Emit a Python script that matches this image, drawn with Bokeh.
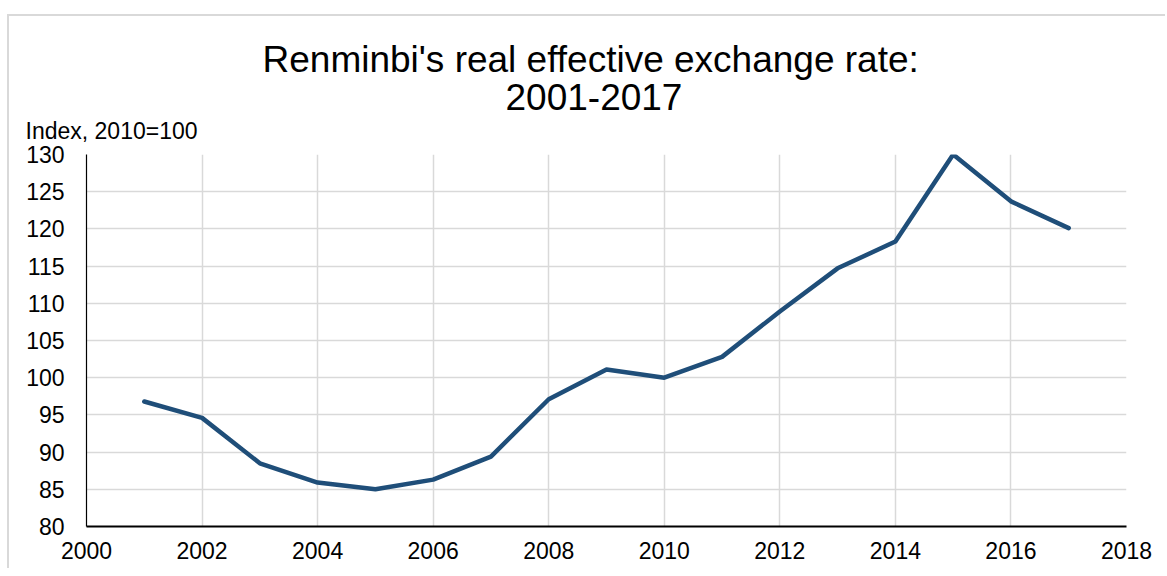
from bokeh.plotting import figure
from bokeh.models import Range1d, SingleIntervalTicker, Title
from bokeh.embed import file_html
from bokeh.resources import INLINE

years = [2001, 2002, 2003, 2004, 2005, 2006, 2007, 2008, 2009,
         2010, 2011, 2012, 2013, 2014, 2015, 2016, 2017]
reer = [96.8, 94.6, 88.5, 85.9, 85.0, 86.3, 89.4, 97.1, 101.1,
        100.0, 102.8, 108.9, 114.7, 118.3, 130.0, 123.7, 120.1]

title_lines = ["Renminbi's real effective exchange rate:", "2001-2017"]
y_label = "Index, 2010=100"

FONT = "Liberation Sans"

p = figure(width=1158, height=554, output_backend="svg", toolbar_location=None,
           x_range=Range1d(2000, 2018), y_range=Range1d(80, 130),
           min_border_left=77, min_border_right=41,
           min_border_top=138, min_border_bottom=44)
p.styles = {"margin-left": "9px", "margin-top": "16px", "overflow": "hidden",
            "box-shadow": "-2px -2px 0 0 #d9d9d9"}
p.background_fill_color = "white"
p.border_fill_color = "white"
p.outline_line_color = None

p.xaxis.ticker = SingleIntervalTicker(interval=2)
p.yaxis.ticker = SingleIntervalTicker(interval=5)
for ax in (p.xaxis, p.yaxis):
    ax.major_tick_in = 0
    ax.major_tick_out = 0
    ax.minor_tick_in = 0
    ax.minor_tick_out = 0
    ax.axis_line_color = "black"
    ax.major_label_text_font = FONT
    ax.major_label_text_font_size = "23px"
    ax.major_label_text_color = "black"
p.xaxis.axis_line_width = 2
p.yaxis.axis_line_width = 1.2
p.yaxis.major_label_standoff = 22
p.xaxis.major_label_standoff = 15

p.xgrid.grid_line_color = "#d9d9d9"
p.ygrid.grid_line_color = "#d9d9d9"
p.xgrid.grid_line_width = 1.5
p.ygrid.grid_line_width = 1.5

p.line(years, reer, line_color="#1f4e79", line_width=4.5,
       line_cap="round", line_join="round")

p.add_layout(Title(text=y_label, align="left", offset=-61, standoff=18,
                   vertical_align="top", text_font=FONT,
                   text_font_size="23px", text_font_style="normal",
                   text_color="black"), "above")
p.add_layout(Title(text=title_lines[1], align="left", offset=419,
                   standoff=-7, vertical_align="top", text_font=FONT,
                   text_font_size="37px", text_font_style="normal",
                   text_color="black"), "above")
p.add_layout(Title(text=title_lines[0], align="left", offset=176,
                   standoff=11, vertical_align="top", text_font=FONT,
                   text_font_size="37px", text_font_style="normal",
                   text_color="black"), "above")

open("out.html", "w").write(file_html(p, INLINE))
